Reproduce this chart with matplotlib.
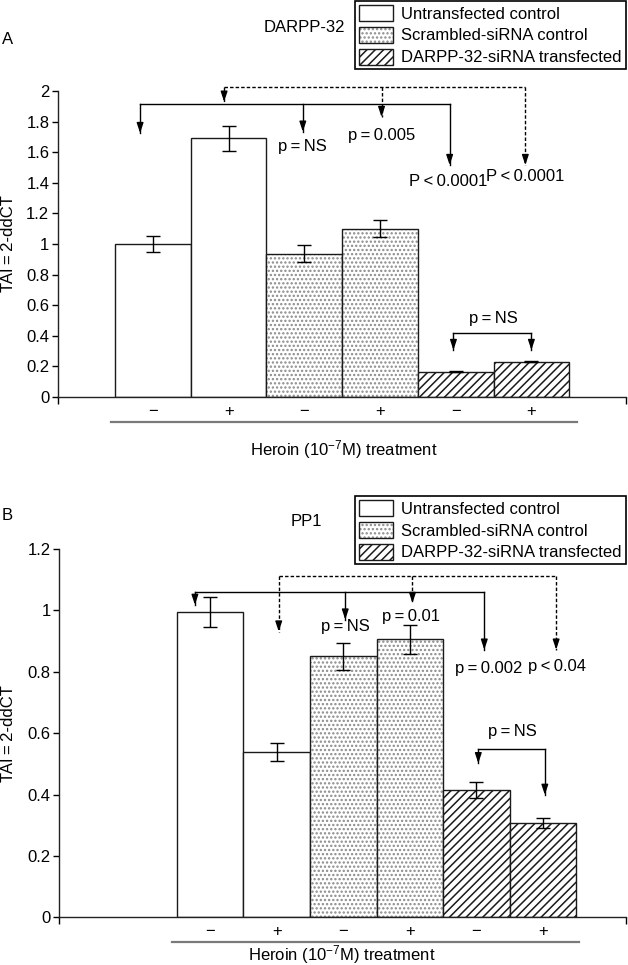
import matplotlib
matplotlib.use('Agg')
import matplotlib.pyplot as plt
from matplotlib.patches import Patch

plt.rcParams['font.family'] = ['Liberation Sans', 'DejaVu Sans']
plt.rcParams['font.size'] = 12
plt.rcParams['hatch.linewidth'] = 1.1
plt.rcParams['mathtext.fontset'] = 'custom'
plt.rcParams['mathtext.rm'] = 'Liberation Sans'
plt.rcParams['mathtext.it'] = 'Liberation Sans:italic'

# 数据
treat = ['\u2212', '+', '\u2212', '+', '\u2212', '+']
groups = ['Untransfected control', 'Scrambled-siRNA control', 'DARPP-32-siRNA transfected']
group_of_bar = [0, 0, 1, 1, 2, 2]

darpp_val = [1.0, 1.69, 0.937, 1.10, 0.166, 0.231]
darpp_err = [0.055, 0.08, 0.055, 0.055, 0.005, 0.005]
pp1_val = [0.995, 0.538, 0.850, 0.906, 0.415, 0.306]
pp1_err = [0.05, 0.03, 0.045, 0.047, 0.025, 0.016]

darpp_yticks = ['0', '0.2', '0.4', '0.6', '0.8', '1', '1.2', '1.4', '1.6', '1.8', '2']
pp1_yticks = ['0', '0.2', '0.4', '0.6', '0.8', '1', '1.2']

# 比较箭头: (横线高度, 线型, [(x, 箭头尖端), ...])
darpp_brackets = [
    (1.915, 'solid', [(-0.17, 1.725), (1.98, 1.734), (3.92, 1.516)]),
    (2.028, 'dashed', [(0.94, 1.93), (3.02, 1.83), (4.92, 1.516)]),
    (0.416, 'solid', [(3.97, 0.307), (5.0, 0.307)]),
]
ts = '\u2009'
darpp_pvals = [('p' + ts + '=' + ts + 'NS', 1.98, 1.64), ('p' + ts + '=' + ts + '0.005', 3.02, 1.71),
               ('P' + ts + '<' + ts + '0.0001', 3.90, 1.41), ('P' + ts + '<' + ts + '0.0001', 4.92, 1.44),
               ('p' + ts + '=' + ts + 'NS', 4.5, 0.51)]

pp1_brackets = [
    (1.06, 'solid', [(-0.23, 1.018), (2.03, 0.97), (4.12, 0.872)]),
    (1.113, 'dashed', [(1.03, 0.931), (3.04, 1.024), (5.2, 0.872)]),
    (0.549, 'solid', [(4.03, 0.502), (5.03, 0.399)]),
]
pp1_pvals = [('p' + ts + '=' + ts + 'NS', 2.03, 0.948), ('p' + ts + '=' + ts + '0.01', 3.02, 0.98),
             ('p' + ts + '=' + ts + '0.002', 4.18, 0.812), ('p' + ts + '<' + ts + '0.04', 5.22, 0.817),
             ('p' + ts + '=' + ts + 'NS', 4.54, 0.605)]

W, H = 628, 965
fig = plt.figure(figsize=(W / 100, H / 100), dpi=100)

DOT = '#8a8a8a'
EDGE = '#1a1a1a'
dash = (0, (2.5, 1.5))


def draw_bars(ax, vals, errs):
    x = list(range(len(vals)))
    for i, v in enumerate(vals):
        g = group_of_bar[i]
        if g == 0:
            ax.bar(i, v, width=1, color='white', edgecolor=EDGE, lw=1, zorder=2)
        elif g == 1:
            ax.bar(i, v, width=1, color='white', edgecolor=DOT, hatch='....', lw=0, zorder=2)
            ax.bar(i, v, width=1, fill=False, edgecolor=EDGE, lw=1, zorder=2)
        else:
            ax.bar(i, v, width=1, color='white', edgecolor=EDGE, hatch='////', lw=1, zorder=2)
    ax.errorbar(x, vals, yerr=errs, fmt='none', ecolor='black', elinewidth=1,
                capsize=5, capthick=1, zorder=3)


def draw_brackets(ax, brackets, pvals):
    for y, style, drops in brackets:
        ls = '-' if style == 'solid' else dash
        xs = [d[0] for d in drops]
        ax.plot([min(xs), max(xs)], [y, y], color='black', lw=1, ls=ls, clip_on=False, zorder=4)
        for xd, tip in drops:
            ax.plot([xd, xd], [y, tip], color='black', lw=1, ls=ls, clip_on=False, zorder=4)
            ax.annotate('', xy=(xd, tip), xytext=(0, 7), textcoords='offset points',
                        arrowprops=dict(arrowstyle='-|>,head_length=0.6,head_width=0.2',
                                        color='black', lw=1, mutation_scale=10,
                                        shrinkA=0, shrinkB=0), zorder=5)
    for txt, xt, yt in pvals:
        ax.text(xt, yt, txt, ha='center', va='center', fontsize=12, zorder=6)


def style_axes(ax, xlim, ylim, yticks, line_y, line_x):
    ax.set_xlim(*xlim)
    ax.set_ylim(*ylim)
    for s in ['top', 'right']:
        ax.spines[s].set_visible(False)
    for s in ['left', 'bottom']:
        ax.spines[s].set_linewidth(1)
        ax.spines[s].set_color('#222222')
    ax.set_yticks([float(t) for t in yticks])
    ax.set_yticklabels(yticks)
    ax.tick_params(axis='y', length=4, width=1, pad=2, labelsize=12)
    ax.set_xticks(range(6))
    ax.set_xticklabels(treat)
    ax.tick_params(axis='x', which='major', length=0, pad=5, labelsize=12)
    ax.set_xticks(list(xlim), minor=True)
    ax.tick_params(axis='x', which='minor', length=5, width=1)
    ax.plot(line_x, [line_y, line_y], color='#7a7a7a', lw=1.6,
            transform=ax.get_xaxis_transform(), clip_on=False)


def add_legend(anchor_y):
    handles = [
        Patch(facecolor='white', edgecolor=EDGE, lw=1),
        (Patch(facecolor='white', edgecolor=DOT, hatch='....', lw=0),
         Patch(fill=False, edgecolor=EDGE, lw=1)),
        Patch(facecolor='white', edgecolor=EDGE, hatch='////', lw=1),
    ]
    leg = fig.legend(handles, groups, loc='upper right',
                     bbox_to_anchor=(626 / W, anchor_y), bbox_transform=fig.transFigure,
                     frameon=True, fancybox=False, edgecolor='black', framealpha=1,
                     borderaxespad=0, handlelength=2.05, handleheight=1.1,
                     handletextpad=0.5, labelspacing=0.3, borderpad=0.25, fontsize=12)
    leg.get_frame().set_linewidth(1.2)


# A: DARPP-32
axA = fig.add_axes([57.6 / W, 1 - 397 / H, (626 - 57.6) / W, (397 - 91) / H])
draw_bars(axA, darpp_val, darpp_err)
style_axes(axA, (-1.26, 6.25), (0, 2), darpp_yticks, -0.081, [-0.56, 5.6])
draw_brackets(axA, darpp_brackets, darpp_pvals)
axA.set_ylabel('TAI' + ts + '=' + ts + '2-ddCT', fontsize=12)
axA.yaxis.set_label_coords(-0.074, 0.5)

# B: PP1
axB = fig.add_axes([59.2 / W, 1 - 917.3 / H, (626 - 59.2) / W, (917.3 - 549) / H])
draw_bars(axB, pp1_val, pp1_err)
style_axes(axB, (-2.27, 6.25), (0, 1.2), pp1_yticks, -0.068, [-0.57, 5.55])
draw_brackets(axB, pp1_brackets, pp1_pvals)
axB.set_ylabel('TAI' + ts + '=' + ts + '2-ddCT', fontsize=12)
axB.yaxis.set_label_coords(-0.077, 0.5)

fig.text(8 / W, 1 - 40 / H, 'A', ha='center', va='center', fontsize=12)
fig.text(7 / W, 1 - 515 / H, 'B', ha='center', va='center', fontsize=12)
fig.text(304 / W, 1 - 27 / H, 'DARPP-32', ha='center', va='center', fontsize=12)
fig.text(306 / W, 1 - 521 / H, 'PP1', ha='center', va='center', fontsize=12)
xlabel = r'Heroin (10$^{-7}$M) treatment'
fig.text(344 / W, 1 - 450 / H, xlabel, ha='center', va='center', fontsize=12)
fig.text(342 / W, 1 - 955 / H, xlabel, ha='center', va='center', fontsize=12)

add_legend(1 - 1 / H)
add_legend(1 - 496 / H)

plt.savefig('out.png', dpi=100)
plt.close()
